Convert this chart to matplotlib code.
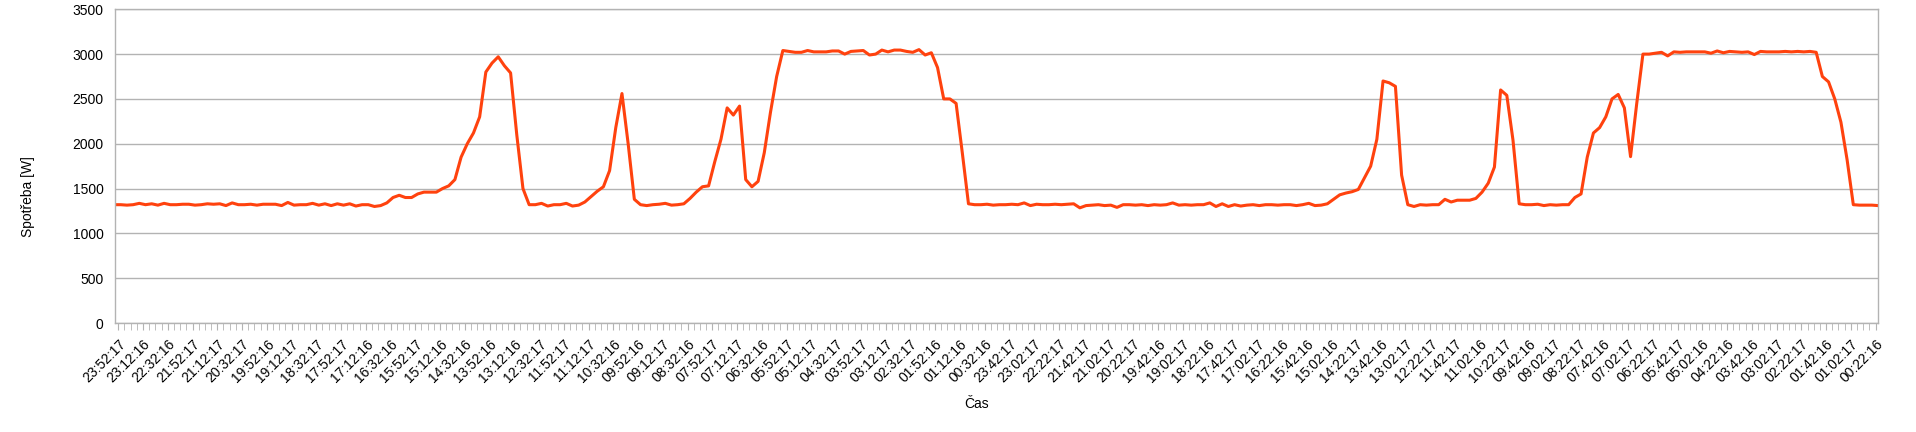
import numpy as np
import matplotlib
matplotlib.use("Agg")
import matplotlib.pyplot as plt

# power draw [W], one reading per tick
spotreba = [
    1320, 1320, 1315, 1320, 1335, 1320, 1330, 1315, 1335, 1320,
    1320, 1325, 1325, 1315, 1320, 1330, 1325, 1330, 1310, 1340,
    1320, 1320, 1325, 1315, 1325, 1325, 1325, 1310, 1345, 1315,
    1320, 1320, 1335, 1315, 1330, 1310, 1330, 1315, 1330, 1305,
    1320, 1320, 1300, 1310, 1340, 1400, 1425, 1400, 1400, 1440,
    1460, 1460, 1460, 1500, 1530, 1600, 1850, 2000, 2120, 2300,
    2800, 2900, 2970, 2870, 2790, 2100, 1500, 1320, 1320, 1335,
    1305, 1320, 1320, 1335, 1305, 1315, 1350, 1410, 1470, 1520,
    1700, 2180, 2560, 2000, 1380, 1320, 1310, 1320, 1325, 1335,
    1315, 1320, 1330, 1390, 1460, 1520, 1530, 1800, 2050, 2400,
    2320, 2420, 1600, 1520, 1580, 1900, 2350, 2750, 3040, 3030,
    3020, 3020, 3040, 3025, 3025, 3025, 3035, 3035, 3000, 3030,
    3035, 3040, 2990, 3000, 3045, 3025, 3045, 3045, 3030, 3020,
    3050, 2990, 3015, 2850, 2500, 2500, 2450, 1900, 1330, 1320,
    1320, 1325, 1315, 1320, 1320, 1325, 1320, 1340, 1310, 1325,
    1320, 1320, 1325, 1320, 1325, 1330, 1285, 1310, 1315, 1320,
    1310, 1315, 1290, 1320, 1320, 1315, 1320, 1310, 1320, 1315,
    1320, 1340, 1315, 1320, 1315, 1320, 1320, 1340, 1300, 1330,
    1300, 1320, 1305, 1315, 1320, 1310, 1320, 1320, 1315, 1320,
    1320, 1310, 1320, 1335, 1310, 1315, 1330, 1380, 1430, 1450,
    1465, 1490, 1620, 1750, 2050, 2700, 2680, 2640, 1650, 1320,
    1300, 1320, 1315, 1320, 1320, 1380, 1350, 1370, 1370, 1370,
    1390, 1460, 1560, 1740, 2600, 2540, 2040, 1330, 1320, 1320,
    1325, 1310, 1320, 1315, 1320, 1320, 1400, 1440, 1850, 2120,
    2180, 2300, 2500, 2550, 2400, 1856, 2450, 3000, 3000, 3010,
    3020, 2980, 3025, 3020, 3025, 3025, 3025, 3025, 3010, 3035,
    3015, 3030, 3025, 3020, 3025, 2995, 3030, 3025, 3025, 3025,
    3030, 3025, 3030, 3025, 3030, 3020, 2750, 2690, 2500, 2240,
    1820, 1320, 1315, 1315, 1315, 1310,
]

casy = [
    "23:52:17", "23:12:16", "22:32:16", "21:52:17", "21:12:17", "20:32:17",
    "19:52:16", "19:12:17", "18:32:17", "17:52:17", "17:12:16", "16:32:16",
    "15:52:17", "15:12:16", "14:32:16", "13:52:16", "13:12:16", "12:32:17",
    "11:52:17", "11:12:17", "10:32:16", "09:52:16", "09:12:17", "08:32:16",
    "07:52:17", "07:12:17", "06:32:16", "05:52:17", "05:12:17", "04:32:17",
    "03:52:17", "03:12:17", "02:32:17", "01:52:16", "01:12:16", "00:32:16",
    "23:42:17", "23:02:17", "22:22:17", "21:42:17", "21:02:17", "20:22:17",
    "19:42:16", "19:02:17", "18:22:16", "17:42:17", "17:02:17", "16:22:16",
    "15:42:16", "15:02:16", "14:22:17", "13:42:16", "13:02:17", "12:22:17",
    "11:42:17", "11:02:16", "10:22:17", "09:42:16", "09:02:17", "08:22:17",
    "07:42:16", "07:02:17", "06:22:17", "05:42:17", "05:02:16", "04:22:16",
    "03:42:16", "03:02:17", "02:22:17", "01:42:16", "01:02:17", "00:22:16",
]

plt.rcParams["font.family"] = ["Liberation Sans", "DejaVu Sans"]
sedy = "#b3b3b3"

fig = plt.figure(figsize=(19.16, 4.32), dpi=100)
ax = fig.add_axes([0.0598, 0.2523, 0.9204, 0.7262])

x = np.arange(len(spotreba))
ax.plot(x, spotreba, color="#ff420e", lw=2.2, solid_joinstyle="round")

ax.set_xlim(0, len(spotreba) - 1)
ax.set_ylim(0, 3500)
ax.set_yticks(range(0, 3501, 500))
ax.grid(axis="y", color=sedy, lw=1)
ax.set_axisbelow(True)

# one small tick per reading, a label on every 4th
tick_pos = np.arange(len(spotreba) - 1) + 0.6
ax.set_xticks(tick_pos, minor=True)
ax.set_xticks(tick_pos[::4][:len(casy)])
ax.set_xticklabels(casy, rotation=45, ha="right", va="top",
                   rotation_mode="anchor", fontsize=10)

ax.tick_params(axis="x", which="both", length=5, color=sedy, pad=5)
ax.tick_params(axis="y", length=0, pad=8, labelsize=10)

for s in ax.spines.values():
    s.set_color(sedy)
    s.set_linewidth(1)

fig.text(28 / 1916, 1 - 197 / 432, "Spotřeba [W]", rotation=90,
         ha="center", va="center", fontsize=10)
fig.text(977 / 1916, 1 - 404 / 432, "Čas", ha="center", va="center",
         fontsize=10)

fig.savefig("out.png", dpi=100)
